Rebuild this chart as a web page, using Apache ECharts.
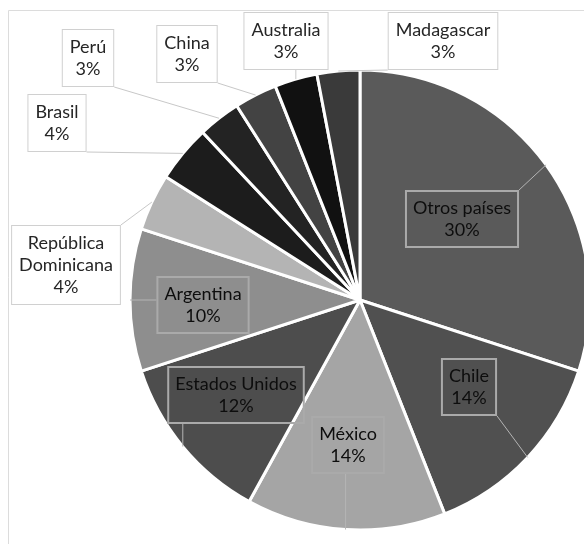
<!DOCTYPE html>
<html>
<head>
<meta charset="utf-8">
<script src="https://cdn.jsdelivr.net/npm/echarts@6/dist/echarts.min.js"></script>
<style>
  html, body { margin: 0; padding: 0; background: #fff; }
  #chart { width: 584px; height: 544px; }
</style>
</head>
<body>
<div id="chart"></div>
<script>
// ---- Data ----
const categories = ['Otros países', 'Chile', 'México', 'Estados Unidos', 'Argentina',
  'República Dominicana', 'Brasil', 'Perú', 'China', 'Australia', 'Madagascar'];
const values = [30, 14, 14, 12, 10, 4, 4, 3, 3, 3, 3];
const labelNames = ['Otros países', 'Chile', 'México', 'Estados Unidos', 'Argentina',
  'República\nDominicana', 'Brasil', 'Perú', 'China', 'Australia', 'Madagascar'];

// ---- Styles / layout ----
const sliceColors = ['#5a5a5a', '#505050', '#a5a5a5', '#4d4d4d', '#8e8e8e',
  '#b4b4b4', '#1c1c1c', '#232323', '#434343', '#111111', '#3a3a3a'];
const labelInside = [true, true, true, true, true, false, false, false, false, false, false];
const labelCenters = [[462, 219], [469, 387], [348, 445], [236, 395], [203, 305],
  [66, 265], [57, 123], [88, 58], [187, 54], [286, 41], [443, 41]];
const pieCenter = [360, 300];
const pieRadius = 230;

const chart = echarts.init(document.getElementById('chart'), null, { renderer: 'canvas' });

const total = values.reduce((a, b) => a + b, 0);

const sliceData = categories.map((c, i) => ({
  name: c,
  value: values[i],
  itemStyle: { color: sliceColors[i] }
}));

const labelData = categories.map((c, i) => ({
  name: c,
  value: values[i],
  label: labelInside[i]
    ? { backgroundColor: 'transparent', borderColor: '#aaaaaa', color: '#0d0d0d' }
    : { backgroundColor: '#ffffff', borderColor: '#d0d0d0', color: '#262626' },
  labelLine: { lineStyle: { color: labelInside[i] ? '#b4b4b4' : '#c8c8c8' } }
}));

chart.setOption({
  backgroundColor: '#ffffff',
  animation: false,
  graphic: [{
    type: 'rect',
    shape: { x: 8.5, y: 10.5, width: 700, height: 700 },
    style: { fill: 'none', stroke: '#dcdcdc', lineWidth: 1 },
    silent: true,
    z: -10
  }],
  series: [{
    type: 'pie',
    center: pieCenter,
    radius: pieRadius,
    startAngle: 90,
    clockwise: true,
    z: 2,
    itemStyle: { borderColor: '#ffffff', borderWidth: 3 },
    label: { show: false },
    labelLine: { show: false },
    data: sliceData
  }, {
    type: 'pie',
    center: pieCenter,
    radius: pieRadius,
    startAngle: 90,
    clockwise: true,
    z: 5,
    silent: true,
    avoidLabelOverlap: false,
    percentPrecision: 0,
    itemStyle: { color: 'rgba(0,0,0,0)', borderWidth: 0 },
    label: {
      show: true,
      position: 'outside',
      formatter: function (p) { return labelNames[p.dataIndex] + '\n' + p.percent + '%'; },
      fontFamily: 'Lato',
      fontSize: 18,
      lineHeight: 22,
      align: 'center',
      borderWidth: 1,
      padding: [6, 7]
    },
    labelLine: { show: true, length: 10, length2: 10, lineStyle: { width: 1 } },
    labelLayout: function (params) {
      const i = params.dataIndex;
      const c = labelCenters[i];
      const w = params.labelRect.width, h = params.labelRect.height;
      const x0 = c[0] - w / 2, y0 = c[1] - h / 2;
      let p0;
      if (params.labelLinePoints && params.labelLinePoints[0]) {
        p0 = params.labelLinePoints[0];
      } else {
        let cum = 0;
        for (let k = 0; k < i; k++) cum += values[k];
        const a = (cum + values[i] / 2) / total * 2 * Math.PI;
        p0 = [pieCenter[0] + pieRadius * Math.sin(a), pieCenter[1] - pieRadius * Math.cos(a)];
      }
      const ex = Math.max(x0, Math.min(p0[0], x0 + w));
      const ey = Math.max(y0, Math.min(p0[1], y0 + h));
      return {
        x: c[0], y: c[1], align: 'center', verticalAlign: 'middle',
        labelLinePoints: [p0, [ex, ey], [ex, ey]]
      };
    },
    data: labelData
  }]
});
</script>
</body>
</html>
